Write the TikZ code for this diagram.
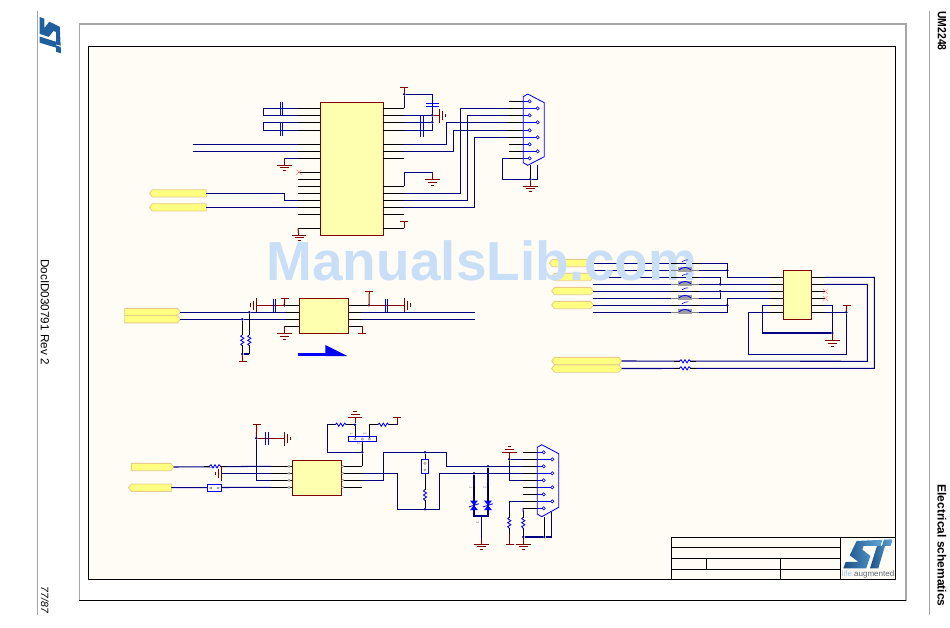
\documentclass[tikz,border=0pt]{standalone}
\usepackage{fontspec}
\setmainfont{Liberation Sans}
\usetikzlibrary{shapes.symbols}
\definecolor{paper}{HTML}{FFFBF5}
\definecolor{wirecol}{HTML}{000080}
\definecolor{partcol}{HTML}{800000}
\definecolor{iccol}{HTML}{FFFFB0}
\definecolor{flagcol}{HTML}{FFFF80}
\definecolor{flagline}{HTML}{E8CC88}
\definecolor{markcol}{HTML}{C9DFF8}
\definecolor{stblue}{HTML}{1F5F9E}
\definecolor{stdark}{HTML}{1B4F85}
\definecolor{stlight}{HTML}{5FA8D8}
\definecolor{taggray}{HTML}{5A6672}
\begin{document}
\begin{tikzpicture}[
	x=1pt,y=-1pt,
	wire/.style={draw=wirecol,line width=1.05pt},
	stub/.style={draw=black,line width=1pt},
	part/.style={draw=partcol,line width=1pt},
	plate/.style={draw=blue,line width=0.85pt},
	ic/.style={rectangle,draw=partcol,fill=iccol,line width=1.1pt,inner sep=0pt,outer sep=0pt},
	flag/.style={signal,draw=flagline,fill=flagcol,line width=0.8pt,inner sep=0pt,outer sep=0pt,signal pointer angle=105,minimum height=7.3pt},
	dot/.style={circle,fill=wirecol,inner sep=0pt,minimum size=2.8pt,outer sep=0pt},
	pinmark/.style={circle,draw=blue,fill=paper,line width=0.6pt,inner sep=0pt,minimum size=3.2pt},
	graymark/.style={circle,draw=gray,fill=paper,line width=0.4pt,inner sep=0pt,minimum size=2.4pt},
	jumper/.style={rectangle,draw=blue,fill=paper,line width=0.85pt,inner sep=0pt,outer sep=0pt},
	tiny/.style={text=gray,font=\fontsize{4}{4}\selectfont,inner sep=0pt,rotate=-90},
	sidetext/.style={rotate=-90,inner sep=0pt},
	logofill/.style={fill=stblue},
	gndsym/.pic={\draw [part] (-7.2,0)--(7.2,0) (-4.5,2.8)--(4.5,2.8) (-1.6,5.8)--(1.6,5.8);},
	teesym/.pic={\draw [part] (-4,0)--(4,0);},
	capsym/.pic={\draw [plate] (-1.1,-6.5)--(-1.1,6.5) (1.1,-6.5)--(1.1,6.5);},
	capwide/.pic={\draw [plate] (-1.7,-10.8)--(-1.7,10.8) (1.7,-10.8)--(1.7,10.8);},
	ressym/.pic={\draw [stub] (-11,0)--(-5,0) (5,0)--(11,0);
		\fill [paper] (-5,-1)rectangle(5,1);
		\draw [plate] (-5.5,0)--(-4,-1.6)--(-2,1.6)--(0,-1.6)--(2,1.6)--(4,-1.6)--(5.5,0);},
	chokesym/.pic={\draw [stub] (-14,-7)--(-7,-7) (7,-7)--(14,-7);
		\draw [draw=gray,line width=1pt] (-14,0)--(14,0);
		\fill [gray!75] (-6.7,-3.8) rectangle (6.7,1.2);
		\draw [plate] (-6,-0.5) .. controls (-2,-3.6) and (2,-3.6) .. (6,-0.5);
		\draw [plate,line width=0.6pt] (-3,-8.5) .. controls (-1,-10) and (1,-10.5) .. (3,-10.5);},
	xsym/.pic={\draw [red!50,line width=0.5pt] (-2.6,-2.6)--(2.6,2.6) (-2.6,2.6)--(2.6,-2.6);},
	zenersym/.pic={\fill [blue] (-4,-4.8)--(4,-4.8)--(0,0)--(4,4.8)--(-4,4.8)--(0,0)--cycle;
		\draw [plate] (-5,1.6)--(5,-1.6);},
	stlogo/.pic={\path [logofill] (40,5)--(117,1.5)--(112,20)--(61,20)--(57,31)--(81,50)--(69,87)--(0,87)--(7,68)--(46,68)--(19,48)--cycle;
		\path [logofill] (122,1.2)--(148,0)--(142,20)--(125,20)--(105,87)--(80,87)--(101,20)--(116,20)--cycle;},
	]
\useasboundingbox (0,0) rectangle (950,627);
\fill [white] (0,0) rectangle (950,627);

\draw [draw=gray!70,line width=1.2pt] (37.3,11) -- (37.3,615);
\draw [draw=gray!70,line width=1.2pt] (929.3,11) -- (929.3,615);
\draw [draw=gray!70,line width=1.1pt] (79.3,600.7) -- (79.3,24) -- (906,24) -- (906,600.7);
\draw [draw=black,line width=0.9pt] (79.3,600.7) -- (906,600.7);
\draw [draw=black,fill=paper,line width=0.9pt] (88.3,46.3) rectangle (895.3,579.3);

\pic [rotate=-90,scale=.245] at (61,17) {stlogo};
\node [sidetext,xscale=.87,font=\bfseries\fontsize{12}{12}\selectfont] (docname) at (942,31) {UM2248};
\node [sidetext,font=\bfseries\fontsize{12}{12}\selectfont] (chapter) at (942,545.5) {Electrical schematics};
\node [sidetext,font=\fontsize{11.7}{12}\selectfont] (docid) at (45,312) {DocID030791 Rev 2};
\node [sidetext,font=\itshape\fontsize{10.5}{12}\selectfont] (pageno) at (45,600) {77/87};

\draw [draw=black,line width=0.9pt] (671,579.3) -- (671,537.3) -- (895.3,537.3);
\draw [draw=black,line width=0.9pt] (671,547.3) -- (840.3,547.3) (671,558.3) -- (840.3,558.3) (671,569) -- (840.3,569);
\draw [draw=black,line width=0.9pt] (706.7,558.3) -- (706.7,569) (780.7,558.3) -- (780.7,579.3) (840.3,537.3) -- (840.3,579.3);
\pic [scale=1/3,logofill/.style={left color=stdark,right color=stlight}] at (843.3,539.3) {stlogo};
\node [inner sep=0pt,text=taggray,font=\fontsize{8}{8}\selectfont] (tagline) at (868,574.3) {\textcolor{stlight!60}{life.}augmented};

\node [ic,minimum width=63pt,minimum height=133pt] (ua) at (351.8,168.8) {};
\foreach \n/\y in {1/108.3,2/115.3,3/122.3,4/130.3,5/144.3,6/151.3,7/158.3,8/172.3,9/179.3,10/186.3,11/193.3,12/200.3,13/207.3,14/214.3,15/228.3} {
  \coordinate (al\n) at (298,\y);
  \draw [stub] (al\n) -- (al\n -| ua.west);
}
\foreach \n/\y in {1/108.3,2/115.3,3/122.3,4/130.3,5/144.3,6/151.3,7/158.3,8/186.3,9/193.3,10/200.3,11/207.3,12/214.3,13/228.3} {
  \coordinate (ar\n) at (404.3,\y);
  \draw [stub] (ar\n) -- (ar\n -| ua.east);
}
\foreach \n/\y/\x in {1/101.3/529.7,2/108.3/537.7,3/115.3/529.7,4/122.3/537.7,5/130.3/529.7,6/137.3/537.7,7/144.3/529.7,8/151.3/537.7,9/158.3/529.7} {
  \coordinate (ja\n) at (509.3,\y);
  \draw [stub] (ja\n) -- (523.3,\y);
  \draw [plate,line width=0.5pt] (523.3,\y) -- (\x,\y);
  \node [pinmark] (jap\n) at (\x,\y) {};
}
\draw [plate,fill=none] (523.3,96.7) -- (527.7,94) -- (544.3,102.7) -- (544.3,156.7) -- (527.7,165.3) -- (523.3,162.7) -- cycle;

\node [flag,signal to=west,signal from=nowhere,minimum width=56.7pt] (fa1) at (179.3,193.3) {};
\node [flag,signal to=west,signal from=nowhere,minimum width=56.7pt] (fa2) at (179.3,207.3) {};
\node [dot] (a1) at (404.3,94.3) {};
\node [dot] (a2) at (432.3,115.3) {};
\node [dot] (a3) at (432.3,122.3) {};
\node [dot] (a4) at (530.3,179.3) {};
\coordinate (asig1) at (193.3,144.3);
\coordinate (asig2) at (193.3,151.3);

\draw [wire] (al1) -- (263.3,108.3) |- (al2);
\draw [wire] (al3) -- (263.3,122.3) |- (al4);
\draw [wire] (asig1) -- (al5);
\draw [wire] (asig2) -- (al6);
\draw [wire] (al7) -- (284.3,158.3);
\draw [part] (284.3,158.3) -- (284.3,165);
\draw [wire] (fa1.east) -- (284.3,193.3) -- (284.3,200.3) -- (al12);
\draw [wire] (fa2.east) -- (al13);
\draw [part] (al15) -- (298.7,235);
\pic at (281.7,108.8) {capsym};
\pic at (281.7,129.5) {capsym};
\pic at (284.5,165) {gndsym};
\pic at (299,172.3) {xsym};
\pic at (299.2,235) {gndsym};

\draw [wire] (ar1) -- (a1);
\draw [part] (a1) -- (404.3,87.3);
\pic at (404.3,87.3) {teesym};
\draw [wire] (a1) -| (a2);
\draw [wire] (ar2) -- (a2) -- (a3);
\draw [wire] (ar3) -- (a3) -- (432.3,130.3) -- (ar4);
\draw [part] (a2) -- (439.5,115.3);
\pic [rotate=90] at (439.5,115.8) {gndsym};
\pic [rotate=90] at (432.3,105) {capsym};
\pic at (421.7,126) {capwide};
\draw [wire] (ar5) -| (446.3,122.3) -- (ja4);
\draw [wire] (ar6) -| (453.7,130.3) -- (ja5);
\draw [wire] (ar9) -| (460.3,108.3) -- (ja2);
\draw [wire] (ar10) -| (467.3,115.3) -- (ja3);
\draw [wire] (ar11) -| (474.3,137.3) -- (ja6);
\draw [wire] (ar8) |- (432.3,172.3);
\draw [part] (432.3,172.3) -- (432.3,179.3);
\pic at (432.3,179.3) {gndsym};
\draw [part] (ar13) -- (404.3,221.3);
\pic at (404.3,221.3) {teesym};
\draw [wire] (ja9) -- (502.3,158.3) |- (a4);
\draw [wire] (a4) -| (537.7,165);
\draw [stub] (a4) -- (530.3,165);
\draw [part] (a4) -- (530.3,186);
\pic at (530.5,186) {gndsym};

\node [ic,minimum width=49.4pt,minimum height=35pt] (ub) at (324,315.8) {};
\foreach \n/\y in {1/305.3,2/312.3,3/319.3,4/326.3} {
  \coordinate (bl\n) at (285.7,\y);
  \coordinate (br\n) at (362,\y);
  \draw [stub] (bl\n) -- (bl\n -| ub.west);
  \draw [stub] (br\n) -- (br\n -| ub.east);
}
\node [flag,signal to=east,signal from=nowhere,minimum width=55.7pt] (fb1) at (151.1,312) {};
\node [flag,signal to=east,signal from=nowhere,minimum width=55.7pt] (fb2) at (151.1,319.2) {};
\node [dot] (b1) at (249.3,312.3) {};
\node [dot] (b2) at (242.3,319.3) {};
\node [dot] (b3) at (242.3,354) {};
\node [dot] (b4) at (284.3,305.3) {};
\node [dot] (b5) at (369,305.3) {};
\coordinate (bout1) at (474.7,312.3);
\coordinate (bout2) at (474.7,319.3);

\draw [wire] (fb1.east |- b1) -- (b1) -- (bl2);
\draw [wire] (fb2.east |- b2) -- (b2) -- (bl3);
\draw [wire] (br2) -- (bout1);
\draw [wire] (br3) -- (bout2);
\draw [stub] (b1) -- (249.3,354);
\draw [stub] (b2) -- (b3);
\draw [wire] (b3) -- (249.3,354);
\pic [rotate=90] at (242.3,340.3) {ressym};
\pic [rotate=90] at (249.3,340.3) {ressym};
\draw [part] (b3) -- (242.7,361.3);
\pic at (242.7,361.3) {teesym};
\draw [part] (257,305.3) -- (bl1);
\pic at (274.3,305.3) {capsym};
\pic [rotate=-90] at (256.5,305) {gndsym};
\draw [part] (b4) -- (284.7,298.3);
\pic at (284.7,298.3) {teesym};
\draw [stub] (bl4) -- (284.3,326.3);
\draw [part] (284.3,326.3) -- (284.3,333.3);
\pic at (284.5,333.3) {gndsym};
\draw [part] (br1) -- (404.3,305.3);
\draw [stub] (ub.east |- b5) -- (b5);
\draw [part] (b5) -- (369.3,291.3);
\pic at (369.3,291.3) {teesym};
\pic at (386.7,305.3) {capsym};
\pic [rotate=90] at (404.3,305) {gndsym};
\draw [part] (br4) -- (362,333.3);
\pic at (362.2,333.3) {teesym};
\draw [blue,line width=2.6pt] (297.7,354.7) -- (326.7,354.7);
\fill [blue] (325.3,345) -- (325.3,356) -- (347.3,356) -- cycle;

\node [ic,minimum width=28.4pt,minimum height=49pt] (uc) at (797.5,294.8) {};
\foreach \n/\y in {1/277.3,2/284.3,3/291.3,4/298.3,5/305.3,6/312.3} {
  \coordinate (cl\n) at (770,\y);
  \coordinate (cr\n) at (825,\y);
  \draw [stub] (cl\n) -- (cl\n -| uc.west);
  \draw [stub] (cr\n) -- (cr\n -| uc.east);
}
\foreach \n/\y in {1/263.3,2/270.3,3/277.3,4/284.3,5/291.3,6/298.3,7/305.3,8/312.3} {
  \coordinate (cf\n) at (593.3,\y);
}
\node [flag,signal to=west,signal from=nowhere,minimum width=37.5pt] (fc1) at (569.7,263) {};
\node [flag,signal to=west and east,minimum width=41.6pt] (fc2) at (572.5,277) {};
\node [flag,signal to=west and east,minimum width=41.6pt] (fc3) at (572.5,291) {};
\node [flag,signal to=west and east,minimum width=41.6pt] (fc4) at (572.5,305) {};
\node [flag,signal to=west and east,minimum width=70pt] (fg1) at (586.7,361) {};
\node [flag,signal to=west and east,minimum width=70pt] (fg2) at (586.7,368.5) {};
\node [dot] (c1) at (727.3,270.3) {};
\node [dot] (c2) at (720.3,284.3) {};
\node [dot] (c3) at (720.3,291.3) {};
\node [dot] (c4) at (727.3,305.3) {};
\node [dot] (c5) at (832.3,333) {};
\node [dot] (c6) at (846.3,312.3) {};

\draw [wire] (cf1) -| (727.3,277.3) -- (cl1);
\draw [wire] (cf2) -- (c1);
\draw [wire] (cf3) -| (c2);
\draw [wire] (cf4) -- (cl2);
\draw [wire] (cf5) -- (cl3);
\draw [wire] (cf6) -| (c3);
\draw [wire] (cf7) -- (c4);
\draw [wire] (cf8) -| (727.3,298.3) -- (cl4);
\draw [wire] (cr1) -| (874.3,368.3) -- (fg2.east);
\draw [wire] (cr2) -| (867.3,361.3) -- (fg1.east);
\pic at (685,361.3) {ressym};
\pic at (685,368.3) {ressym};
\pic at (825.3,291.3) {xsym};
\pic at (825.3,298.3) {xsym};
\draw [wire] (cr5) -| (c5);
\draw [wire] (cl5) -- (762.3,305.3) |- (c5);
\draw [part] (c5) -- (832.3,340.7);
\pic at (832.5,340.7) {gndsym};
\draw [wire] (cl6) -- (748.3,312.3) |- (846.3,354.3) -- (c6);
\draw [wire] (cr6) -- (c6);
\draw [part] (c6) -- (846.7,305.3);
\pic at (846.7,305.3) {teesym};

\node [ic,minimum width=49.4pt,minimum height=35pt] (ud) at (317,477.8) {};
\foreach \n/\y in {1/466.3,2/473.3,3/480.3,4/487.3} {
  \coordinate (dl\n) at (271,\y);
  \coordinate (dr\n) at (362.3,\y);
  \draw [stub] (dl\n) -- (dl\n -| ud.west);
  \draw [stub] (dr\n) -- (dr\n -| ud.east);
  \node [graymark] (dlp\n) at (289,\y) {};
  \node [graymark] (drp\n) at (342.7,\y) {};
}
\foreach \n/\y/\x in {1/452.3/543.7,2/459.3/552.3,3/466.3/543.7,4/473.3/552.3,5/480.3/543.7,6/487.3/552.3,7/494.3/543.7,8/501.3/552.3,9/508.3/543.7} {
  \coordinate (jb\n) at (523,\y);
  \draw [stub] (jb\n) -- (537.3,\y);
  \draw [plate,line width=0.5pt] (537.3,\y) -- (\x,\y);
  \node [pinmark] (jbp\n) at (\x,\y) {};
}
\draw [plate,fill=none] (537.3,447.3) -- (541.7,444.7) -- (558.7,453.7) -- (558.7,507.3) -- (541.7,516.7) -- (537.3,514) -- cycle;

\node [flag,signal to=east,signal from=nowhere,minimum width=42.3pt] (fd1) at (151.1,467) {};
\node [flag,signal to=west,signal from=nowhere,minimum width=42.7pt] (fd2) at (151.3,487.7) {};
\node [jumper,minimum width=28.4pt,minimum height=5.4pt] (jp2) at (362.5,439) {};
\node [graymark] (jp2a) at (355,439) {};
\node [graymark] (jp2b) at (362.3,439) {};
\node [graymark] (jp2c) at (369.3,439) {};
\node [tiny] (jp2n1) at (351.5,433.5) {1};
\node [tiny] (jp2n3) at (365,433.5) {3};
\node [tiny] (jp2n2) at (358.5,443.8) {2};
\node [dot] (e1) at (362.3,452.3) {};
\node [dot] (e2) at (355,424.7) {};
\node [dot] (e3) at (425,452.3) {};
\node [dot] (e4) at (425,509.3) {};
\node [dot] (e5) at (256.3,438.3) {};
\node [dot] (d1) at (474,473.3) {};
\node [dot] (d2) at (488,466.3) {};
\node [dot] (d3) at (509.3,459.3) {};
\node [dot] (d4) at (523.3,537) {};
\node [dot] (d5) at (544.3,537) {};

\draw [wire] (fd1.east) -- (dl1);
\pic at (215,466.3) {ressym};
\draw [wire] (dl2) -- (221.7,473.3);
\draw [part] (221.7,466.3) -- (221.7,481);
\pic [rotate=-90] at (221.7,473.5) {gndsym};
\draw [wire] (fd2.east) -- (dl4);
\node [jumper,minimum width=14.4pt,minimum height=7.4pt] (jp1) at (214.5,488) {};
\node [graymark] (jp1a) at (210.8,488) {};
\node [graymark] (jp1b) at (218,488) {};
\draw [wire] (dl3) -| (e5);
\draw [part] (e5) -- (256.7,424.7);
\pic at (256.7,424.7) {teesym};
\draw [part] (e5) -- (284.3,438.3);
\pic at (267,438.3) {capsym};
\pic [rotate=90] at (284.3,438.7) {gndsym};

\draw [stub] (dr1) -- (e1);
\draw [stub] (e1) -- (jp2);
\draw [wire] (e1) -| (327.3,424.7) -- (e2);
\pic at (340.7,424.7) {ressym};
\draw [stub] (e2) -- (jp2a);
\draw [part] (e2) -- (355,417);
\pic [rotate=180] at (355,417) {gndsym};
\draw [stub] (jp2c) |- (376.7,424.7);
\draw [wire] (376.7,424.7) -- (397.3,424.7);
\pic at (383.3,424.7) {ressym};
\draw [part] (397.3,424.7) -- (397.3,417.3);
\pic at (397.3,417.3) {teesym};

\draw [wire] (dr3) -| (383.3,452.3) -- (e3) -- (446.3,452.3) |- (d2) -- (jb3);
\draw [wire] (dr2) -| (397.3,509.3) -- (e4) -- (439.3,509.3) |- (d1) -- (jb4);
\draw [stub] (e3) -- (e4);
\node [jumper,minimum width=7.4pt,minimum height=14pt] (jp3) at (425,466.3) {};
\node [graymark] (jp3a) at (425,463.3) {};
\node [graymark] (jp3b) at (425,470) {};
\pic [rotate=90] at (425,495) {ressym};

\draw [wire] (d1) -- (474,516) -- (488,516) -- (d2);
\draw [stub] (474,486) -- (474,501);
\draw [stub] (488,486) -- (488,501);
\pic at (474,505.3) {zenersym};
\pic at (488,505.3) {zenersym};
\node [tiny] (zn1) at (471,487.3) {1};
\node [tiny] (zn2) at (485,487.3) {2};
\node [tiny] (zn3) at (477.7,522.3) {3};
\draw [wire] (481.3,516) -- (481.3,538);
\draw [part] (481.3,538) -- (481.3,544);
\pic at (481.5,544) {gndsym};

\draw [wire] (jb2) -- (d3) |- (jb5);
\draw [part] (d3) -- (509.3,452.3);
\pic [rotate=180] at (509.5,452.3) {gndsym};
\draw [wire] (jb8) -- (509.3,501.3) -- (509.3,512);
\draw [stub] (509.3,512) -- (509.3,532);
\draw [part] (509.3,532) -- (509.3,544);
\pic [rotate=90] at (509.3,522.7) {ressym};
\pic at (509.5,544) {teesym};
\draw [wire] (jb9) -- (523.3,512);
\draw [stub] (523.3,512) -- (d4);
\pic [rotate=90] at (523.3,522.7) {ressym};
\draw [part] (d4) -- (523.3,544);
\pic at (523.3,544) {gndsym};
\draw [wire] (d4) -- (d5) -- (551.3,537) -- (551.3,512.3);
\draw [stub] (d5) -- (544.3,516.7);

\node [inner sep=0pt,text=markcol,font=\bfseries\fontsize{55}{55}\selectfont] (watermark) at (482,261) {ManualsLib.com};
\foreach \y in {270.3,284.3,298.3,312.3} {
  \pic at (685,\y) {chokesym};
}
\end{tikzpicture}
\end{document}
